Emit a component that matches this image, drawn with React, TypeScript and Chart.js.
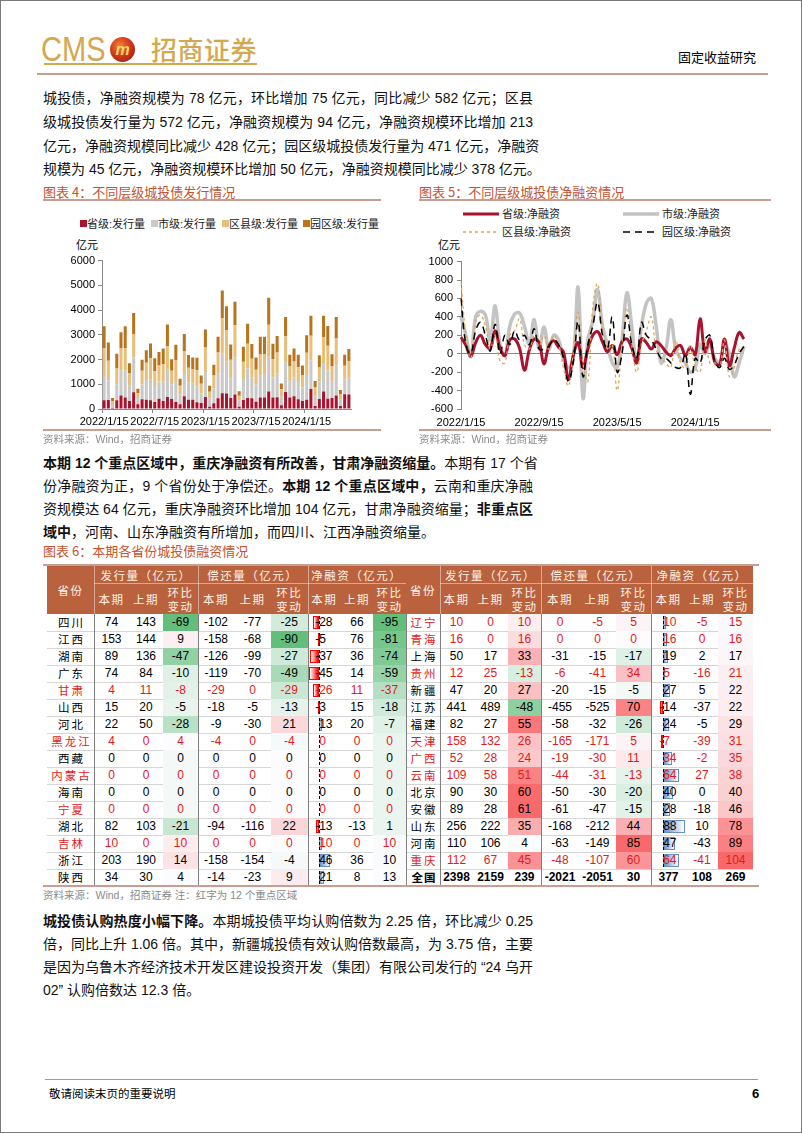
import React, { useEffect, useRef } from "react";
import { Chart, registerables } from "chart.js";

Chart.register(...registerables);

const FONT_NUM = '"Liberation Sans", Arial, "Noto Sans CJK SC", sans-serif';
const FONT_CJK = '"Noto Sans CJK SC", "Liberation Sans", sans-serif';

// ---------- time axis ----------
const halfMonthDays = ["1/15","1/31","2/15","2/28","3/15","3/31","4/15","4/30","5/15","5/31","6/15","6/30","7/15","7/31","8/15","8/31","9/15","9/30","10/15","10/31","11/15","11/30","12/15","12/31"];
const periodLabels: string[] = [
  ...halfMonthDays.map((d) => "2022/" + d),
  ...halfMonthDays.map((d) => "2023/" + d),
  ...halfMonthDays.slice(0, 11).map((d) => "2024/" + d),
];

// ---------- chart 4 : issuance (亿元) ----------
const barTickLabels = ["2022/1/15", "2022/7/15", "2023/1/15", "2023/7/15", "2024/1/15"];
const issueProvince = [350,360,40,350,550,470,320,680,190,390,370,350,280,410,320,490,400,280,190,520,370,370,270,240,490,90,230,430,640,630,440,590,90,360,440,430,290,470,470,710,470,480,150,690,470,520,390,320,370,810,120,400,710,410,440,550,120,600,590];
const issueCity = [980,800,160,650,1000,1100,620,1400,250,600,800,850,650,700,800,1100,600,850,400,900,700,650,650,400,1000,330,600,1000,1600,1300,800,1500,250,850,1200,850,700,900,950,1400,800,950,350,1200,650,750,700,550,1000,1150,400,700,1150,1150,700,1200,250,600,700];
const issueDistrict = [1130,790,120,640,900,900,500,930,200,560,700,850,600,650,700,950,550,850,350,900,600,580,650,380,1000,280,520,850,1440,1250,750,1300,200,700,1000,750,600,850,800,1300,750,850,300,1050,600,650,600,500,900,1000,350,600,1050,1000,600,1100,220,550,650];
const issuePark = [890,740,120,590,650,880,410,870,180,440,510,600,520,540,630,880,460,620,280,710,510,480,500,330,720,240,440,640,1110,970,620,950,180,610,810,600,490,700,700,1090,620,670,230,780,470,530,500,390,710,810,260,470,860,800,470,870,180,440,490];

// ---------- chart 5 : net financing (亿元) ----------
const lineTickLabels = ["2022/1/15", "2022/9/15", "2023/5/15", "2024/1/15"];
const netProvince = [180,90,-30,120,200,100,60,250,60,-20,150,160,60,-180,40,160,120,-110,80,140,70,20,-280,-20,120,-150,50,200,240,130,20,90,-10,130,160,60,-100,160,120,50,130,90,20,-20,60,90,-20,70,-10,380,20,160,-90,-120,160,-130,60,230,160];
const netCity = [400,200,-30,400,460,420,150,520,100,-20,300,430,440,300,100,370,50,290,50,200,150,-50,-150,-50,720,-480,150,350,700,300,100,-100,-150,150,660,300,-100,300,550,600,300,-100,50,370,50,-50,-100,-200,-150,100,0,100,-50,-100,100,0,-250,-100,80];
const netDistrict = [780,200,-50,350,420,300,50,200,-80,-100,200,250,380,100,50,200,80,200,50,200,100,-150,-350,0,450,-100,-300,500,760,300,50,100,-400,100,500,100,-200,100,250,400,50,-50,-100,-150,150,-100,-150,100,-150,-200,150,-100,-100,-150,150,-250,-150,50,80];
const netPark = [600,100,0,250,340,200,30,320,0,200,100,250,150,200,100,270,50,50,80,150,100,-50,-300,-100,350,-250,100,300,560,200,50,400,-200,0,420,100,-50,340,200,150,50,-50,-50,-100,-150,-150,0,-440,-50,-100,150,200,-80,-150,-50,-170,-120,0,80];

// ---------- table 6 ----------
const keyRegions = ["甘肃","黑龙江","内蒙古","宁夏","吉林","辽宁","青海","贵州","天津","广西","云南","重庆"];
const groupTitles = ["发行量（亿元）", "偿还量（亿元）", "净融资（亿元）"];
const subTitles = ["本期", "上期", "环比\n变动"];
const leftRows: (string | number)[][] = [
  ["四川",74,143,-69,-102,-77,-25,-28,66,-95],
  ["江西",153,144,9,-158,-68,-90,-5,76,-81],
  ["湖南",89,136,-47,-126,-99,-27,-37,36,-74],
  ["广东",74,84,-10,-119,-70,-49,-45,14,-59],
  ["甘肃",4,11,-8,-29,0,-29,-26,11,-37],
  ["山西",15,20,-5,-18,-5,-13,-3,15,-18],
  ["河北",22,50,-28,-9,-30,21,13,20,-7],
  ["黑龙江",4,0,4,-4,0,-4,0,0,0],
  ["西藏",0,0,0,0,0,0,0,0,0],
  ["内蒙古",0,0,0,0,0,0,0,0,0],
  ["海南",0,0,0,0,0,0,0,0,0],
  ["宁夏",0,0,0,0,0,0,0,0,0],
  ["湖北",82,103,-21,-94,-116,22,-13,-13,1],
  ["吉林",10,0,10,0,0,0,10,0,10],
  ["浙江",203,190,14,-158,-154,-4,46,36,10],
  ["陕西",34,30,4,-14,-23,9,21,8,13],
];
const rightRows: (string | number)[][] = [
  ["辽宁",10,0,10,0,-5,5,10,-5,15],
  ["青海",16,0,16,0,0,0,16,0,16],
  ["上海",50,17,33,-31,-15,-17,19,2,17],
  ["贵州",12,25,-13,-6,-41,34,5,-16,21],
  ["新疆",47,20,27,-20,-15,-5,27,5,22],
  ["江苏",441,489,-48,-455,-525,70,-14,-37,22],
  ["福建",82,27,55,-58,-32,-26,24,-5,29],
  ["天津",158,132,26,-165,-171,5,-7,-39,31],
  ["广西",52,28,24,-19,-30,11,34,-2,35],
  ["云南",109,58,51,-44,-31,-13,64,27,38],
  ["北京",90,30,60,-50,-30,-20,40,0,40],
  ["安徽",89,28,61,-61,-47,-15,28,-18,46],
  ["山东",256,222,35,-168,-212,44,88,10,78],
  ["河南",110,106,4,-63,-149,85,47,-43,89],
  ["重庆",112,67,45,-48,-107,60,64,-41,104],
  ["全国",2398,2159,239,-2021,-2051,30,377,108,269],
];

// ---------- styles ----------
const GOLD = "#d4a84f";
const ROSE = "#c79e90";
const TITLE_RED = "#c4532f";
const KEY_RED = "#e3191c";
const HEAD_BG = "#b9623d";
const SRC_GRAY = "#8a8a8a";

const abs: React.CSSProperties = { position: "absolute" };

function T({ x, y, size = 14, children, style }: { x: number; y: number; size?: number; children: React.ReactNode; style?: React.CSSProperties }) {
  const lh = Math.round(size * 1.3);
  return (
    <div style={{ ...abs, left: x, top: y - lh / 2, fontSize: size, lineHeight: lh + "px", whiteSpace: "nowrap", fontFamily: FONT_NUM, ...style }}>
      {children}
    </div>
  );
}

function JLine({ y, children, justify = true }: { y: number; children: React.ReactNode; justify?: boolean }) {
  return (
    <div
      style={{
        ...abs, left: 42, top: y - 9, width: 490, fontSize: 14, lineHeight: "18px",
        fontFamily: FONT_NUM, whiteSpace: "nowrap", color: "#111",
        textAlign: justify ? "justify" : "left", textAlignLast: justify ? "justify" : "left",
      } as React.CSSProperties}
    >
      {children}
    </div>
  );
}

const B = ({ children }: { children: React.ReactNode }) => <b style={{ fontWeight: 700 }}>{children}</b>;

const plainNum = (v: any) => String(v);

// ---------- charts ----------
function IssueChart() {
  const ref = useRef<HTMLCanvasElement>(null);
  useEffect(() => {
    const font = { family: FONT_NUM, size: 11 };
    const chart = new Chart(ref.current!, {
      type: "bar",
      data: {
        labels: periodLabels,
        datasets: [
          { label: "省级:发行量", data: issueProvince, backgroundColor: "#a8142d" },
          { label: "市级:发行量", data: issueCity, backgroundColor: "#c9c9c9" },
          { label: "区县级:发行量", data: issueDistrict, backgroundColor: "#e8bf7a" },
          { label: "园区级:发行量", data: issuePark, backgroundColor: "#b8741c" },
        ],
      },
      options: {
        animation: false,
        responsive: false,
        maintainAspectRatio: false,
        layout: { padding: { top: 8, right: 30, left: 0, bottom: 0 } },
        plugins: { legend: { display: false }, tooltip: { enabled: false } },
        datasets: { bar: { categoryPercentage: 1, barPercentage: 0.72 } },
        scales: {
          x: {
            stacked: true,
            offset: true,
            grid: {
              offset: true,
              drawOnChartArea: false,
              tickLength: 4,
              color: (ctx: any) => (ctx.index % 12 === 0 ? "#888" : "rgba(0,0,0,0)"),
            },
            border: { display: true, color: "#888" },
            ticks: {
              autoSkip: false, maxRotation: 0, minRotation: 0, padding: 2, font, color: "#000",
              callback: (_v: any, i: number) => (barTickLabels.includes(periodLabels[i]) ? periodLabels[i] : ""),
            },
            afterFit: (s: any) => { s.height = 22; },
          },
          y: {
            stacked: true,
            min: 0,
            max: 6000,
            ticks: { stepSize: 1000, font, color: "#000", padding: 3, callback: plainNum },
            grid: { drawOnChartArea: false, tickLength: 4, color: "#888" },
            border: { display: true, color: "#888" },
            afterFit: (s: any) => { s.width = 59; },
          },
        },
      } as any,
    });
    return () => chart.destroy();
  }, []);
  return <canvas ref={ref} width={338} height={180} style={{ ...abs, left: 42, top: 250, width: 338, height: 180 }} />;
}

function NetChart() {
  const ref = useRef<HTMLCanvasElement>(null);
  useEffect(() => {
    const font = { family: FONT_NUM, size: 11 };
    const common = { pointRadius: 0, tension: 0.4, fill: false };
    const chart = new Chart(ref.current!, {
      type: "line",
      data: {
        labels: periodLabels,
        datasets: [
          { ...common, label: "省级:净融资", data: netProvince, borderColor: "#a8142d", borderWidth: 3, order: 2 },
          { ...common, label: "市级:净融资", data: netCity, borderColor: "#c3c3c3", borderWidth: 3.5, order: 3 },
          { ...common, label: "区县级:净融资", data: netDistrict, borderColor: "#d9a85a", borderWidth: 1.3, borderDash: [3, 3], order: 1 },
          { ...common, label: "园区级:净融资", data: netPark, borderColor: "#000000", borderWidth: 1.5, borderDash: [7, 5], order: 0 },
        ],
      },
      options: {
        animation: false,
        responsive: false,
        maintainAspectRatio: false,
        layout: { padding: { top: 8, right: 27, left: 0, bottom: 0 } },
        plugins: { legend: { display: false }, tooltip: { enabled: false } },
        scales: {
          x: {
            offset: false,
            grid: { display: true, drawOnChartArea: false, tickLength: 4, color: "rgba(0,0,0,0)" },
            border: { display: false },
            ticks: {
              autoSkip: false, maxRotation: 0, minRotation: 0, padding: 3, font, color: "#000",
              callback: (_v: any, i: number) => (lineTickLabels.includes(periodLabels[i]) ? periodLabels[i] : ""),
            },
            afterFit: (s: any) => { s.height = 22; },
          },
          y: {
            min: -600,
            max: 1000,
            ticks: { stepSize: 200, font, color: "#000", padding: 4, callback: plainNum },
            grid: {
              drawOnChartArea: true,
              tickLength: 4,
              tickColor: "#888",
              color: (ctx: any) => (ctx.tick && ctx.tick.value === 0 ? "#888" : "rgba(0,0,0,0)"),
            },
            border: { display: true, color: "#888" },
            afterFit: (s: any) => { s.width = 42; },
          },
        },
      } as any,
    });
    return () => chart.destroy();
  }, []);
  return <canvas ref={ref} width={352} height={180} style={{ ...abs, left: 418, top: 250, width: 352, height: 180 }} />;
}

// ---------- table helpers ----------
const HEAD_TOP = 565, HEAD_MID = 582, BODY_TOP = 613, ROW_H = 17;
const leftCols = [46, 93, 128, 162, 197, 233, 270, 306.5, 340, 372, 405];
const rightCols = [405, 439, 472, 507, 540, 578, 615, 650, 685, 717, 752];

const scaleRows = [...leftRows, ...rightRows.filter((r) => r[0] !== "全国")];
function colStats(c: number) {
  const vals = scaleRows.map((r) => r[c] as number).sort((a, b) => a - b);
  return { min: vals[0], mid: vals[Math.floor(vals.length / 2)], max: vals[vals.length - 1] };
}
const heatStats: Record<number, { min: number; mid: number; max: number }> = { 3: colStats(3), 6: colStats(6), 9: colStats(9) };
const barStats = colStats(7);

function mix(a: number[], b: number[], t: number) {
  const k = Math.max(0, Math.min(1, t));
  return `rgb(${a.map((v, i) => Math.round(v + (b[i] - v) * k)).join(",")})`;
}
function heatColor(v: number, c: number) {
  const { min, mid, max } = heatStats[c];
  const white = [252, 252, 255];
  if (v <= mid) return mix(white, [99, 190, 123], mid === min ? 0 : (mid - v) / (mid - min));
  return mix(white, [248, 105, 107], max === mid ? 0 : (v - mid) / (max - mid));
}

function TableBlock({ cols, rows, tag }: { cols: number[]; rows: (string | number)[][]; tag: string }) {
  const els: React.ReactNode[] = [];
  const x0 = cols[0], x1 = cols[cols.length - 1];
  const headFont: React.CSSProperties = { color: "#fff3e8", fontSize: 11.5, fontFamily: FONT_CJK, letterSpacing: 1.5, lineHeight: "14px", textAlign: "center" };
  els.push(<div key="hbg" style={{ ...abs, left: x0, top: HEAD_TOP, width: x1 - x0, height: BODY_TOP - HEAD_TOP, background: HEAD_BG }} />);
  els.push(
    <div key="hname" style={{ ...abs, ...headFont, left: x0, top: HEAD_TOP, width: cols[1] - x0, height: BODY_TOP - HEAD_TOP, display: "flex", alignItems: "center", justifyContent: "center" }}>
      省份
    </div>
  );
  groupTitles.forEach((g, gi) => {
    const l = cols[1 + gi * 3], r = cols[4 + gi * 3];
    els.push(
      <div key={"g" + gi} style={{ ...abs, ...headFont, left: l, top: HEAD_TOP, width: r - l, height: HEAD_MID - HEAD_TOP, display: "flex", alignItems: "center", justifyContent: "center" }}>
        {g}
      </div>
    );
    subTitles.forEach((s, si) => {
      const cl = cols[1 + gi * 3 + si], cr = cols[2 + gi * 3 + si];
      els.push(
        <div key={`s${gi}${si}`} style={{ ...abs, ...headFont, left: cl, top: HEAD_MID, width: cr - cl, height: BODY_TOP - HEAD_MID, display: "flex", alignItems: "center", justifyContent: "center", whiteSpace: "pre" }}>
          {s}
        </div>
      );
    });
    els.push(<div key={"gv" + gi} style={{ ...abs, left: l, top: HEAD_TOP, width: 1, height: BODY_TOP - HEAD_TOP, background: "rgba(255,255,255,0.45)" }} />);
  });
  els.push(<div key="hmid" style={{ ...abs, left: cols[1], top: HEAD_MID, width: x1 - cols[1], height: 1, background: "rgba(255,255,255,0.45)" }} />);

  // data bar geometry
  const bl = cols[7], bw = cols[8] - cols[7];
  const usable = bw - 2;
  const span = barStats.max - barStats.min;
  const axisX = bl + 1 + (usable * -barStats.min) / span;

  rows.forEach((row, ri) => {
    const top = BODY_TOP + ri * ROW_H;
    const name = row[0] as string;
    const total = name === "全国";
    const color = keyRegions.includes(name) ? KEY_RED : "#000";
    els.push(
      <div key={`n${ri}`} style={{ ...abs, left: x0, top, width: cols[1] - x0, height: ROW_H, lineHeight: ROW_H + "px", textAlign: "center", fontFamily: FONT_CJK, fontSize: 11.5, letterSpacing: total ? 1 : 2, paddingLeft: 2, boxSizing: "border-box", color, fontWeight: total ? 700 : 400 }}>
        {name}
      </div>
    );
    for (let c = 1; c <= 9; c++) {
      const v = row[c] as number;
      const l = cols[c], w = cols[c + 1] - cols[c];
      if (!total && (c === 3 || c === 6 || c === 9)) {
        els.push(<div key={`h${ri}_${c}`} style={{ ...abs, left: l, top, width: w, height: ROW_H, background: heatColor(v, c) }} />);
      }
      if (!total && c === 7) {
        if (v !== 0) {
          const len = (usable * Math.abs(v)) / span;
          const pos = v > 0;
          els.push(
            <div
              key={`b${ri}`}
              style={{
                ...abs, top: top + 2, height: ROW_H - 4, boxSizing: "border-box",
                left: pos ? axisX : axisX - len, width: len,
                border: `1px solid ${pos ? "#638ec6" : "#ff0000"}`,
                background: pos ? "linear-gradient(to right, #638ec6, #ffffff)" : "linear-gradient(to left, #ff0000, #ffffff)",
              }}
            />
          );
        }
        els.push(<div key={`ax${ri}`} style={{ ...abs, left: axisX, top: top + 2, width: 0, height: ROW_H - 4, borderLeft: "1px dashed #000" }} />);
        els.push(
          <div key={`t${ri}_${c}`} style={{ ...abs, left: axisX - (v < 0 ? 4 : 0), top, height: ROW_H, lineHeight: ROW_H + "px", fontFamily: FONT_NUM, fontSize: 12, color, whiteSpace: "nowrap" }}>
            {v}
          </div>
        );
        continue;
      }
      els.push(
        <div key={`t${ri}_${c}`} style={{ ...abs, left: l, top, width: w, height: ROW_H, lineHeight: ROW_H + "px", textAlign: "center", fontFamily: FONT_NUM, fontSize: 12, color, fontWeight: total ? 700 : 400, whiteSpace: "nowrap" }}>
          {v}
        </div>
      );
    }
    if (ri < rows.length - 1) {
      els.push(<div key={`rl${ri}`} style={{ ...abs, left: x0, top: top + ROW_H - 0.5, width: x1 - x0, height: 1, background: "#d6d6d6" }} />);
    }
  });
  // group vertical lines in body
  [0, 1, 4, 7].forEach((ci) => {
    if (ci === 0 && tag === "L") return;
    els.push(<div key={"v" + ci} style={{ ...abs, left: cols[ci], top: BODY_TOP, width: 1, height: ROW_H * rows.length, background: "#7f7f7f" }} />);
  });
  return <>{els}</>;
}

// ---------- page ----------
export default function App() {
  return (
    <div style={{ ...abs, left: 0, top: 0, width: 802, height: 1133, boxSizing: "border-box", border: "1px solid #7a7a7a", background: "#fff", overflow: "hidden", fontFamily: FONT_NUM, color: "#000" }}>
      {/* header */}
      <div style={{ ...abs, left: 40, top: 30, fontSize: 35, lineHeight: "35px", color: GOLD, fontFamily: '"Liberation Sans", sans-serif', transform: "scaleX(0.83)", transformOrigin: "0 0", whiteSpace: "nowrap" }}>CMS</div>
      <div style={{ ...abs, left: 109, top: 36, width: 25, height: 25, borderRadius: "50%", background: "radial-gradient(circle at 40% 35%, #f2852e 0%, #d23a1c 45%, #8e1510 100%)", display: "flex", alignItems: "center", justifyContent: "center", color: "#f6d46c", fontSize: 16, fontWeight: 700, fontStyle: "italic", lineHeight: "25px", fontFamily: FONT_NUM }}>m</div>
      <div style={{ ...abs, left: 150, top: 34, fontSize: 26, lineHeight: "28px", color: GOLD, fontFamily: FONT_CJK, fontWeight: 500, letterSpacing: 0.5 }}>招商证券</div>
      <div style={{ ...abs, left: 43, top: 62, width: 213, height: 1.5, background: GOLD }} />
      <T x={677} y={55} size={13} style={{ fontFamily: FONT_CJK }}>固定收益研究</T>
      <div style={{ ...abs, left: 36, top: 72, width: 731, height: 1.5, background: ROSE }} />

      {/* paragraph 1 */}
      <JLine y={97}>城投债，净融资规模为 78 亿元，环比增加 75 亿元，同比减少 582 亿元；区县</JLine>
      <JLine y={121}>级城投债发行量为 572 亿元，净融资规模为 94 亿元，净融资规模环比增加 213</JLine>
      <JLine y={145}>亿元，净融资规模同比减少 428 亿元；园区级城投债发行量为 471 亿元，净融资</JLine>
      <JLine y={168} justify={false}>规模为 45 亿元，净融资规模环比增加 50 亿元，净融资规模同比减少 378 亿元。</JLine>

      {/* chart titles */}
      <T x={42} y={190} size={13} style={{ color: TITLE_RED, fontFamily: FONT_CJK }}>图表 4：不同层级城投债发行情况</T>
      <T x={418} y={190} size={13} style={{ color: TITLE_RED, fontFamily: FONT_CJK }}>图表 5：不同层级城投债净融资情况</T>
      <div style={{ ...abs, left: 42, top: 198, width: 338, height: 1.5, background: ROSE }} />
      <div style={{ ...abs, left: 418, top: 198, width: 352, height: 1.5, background: ROSE }} />

      {/* chart 4 legend */}
      <div style={{ ...abs, left: 42, top: 214, width: 336, height: 18, overflow: "hidden" }}>
        {[
          { x: 37, c: "#a8142d", t: "省级:发行量" },
          { x: 108, c: "#c9c9c9", t: "市级:发行量" },
          { x: 179, c: "#e8bf7a", t: "区县级:发行量" },
          { x: 260, c: "#b8741c", t: "园区级:发行量" },
        ].map((it) => (
          <React.Fragment key={it.t}>
            <div style={{ ...abs, left: it.x, top: 5, width: 7, height: 7, background: it.c }} />
            <div style={{ ...abs, left: it.x + 7, top: 0, fontSize: 11, lineHeight: "18px", whiteSpace: "nowrap", fontFamily: FONT_NUM, color: "#222" }}>{it.t}</div>
          </React.Fragment>
        ))}
      </div>
      <T x={75} y={243} size={11} style={{ fontFamily: FONT_CJK }}>亿元</T>
      <IssueChart />

      {/* chart 5 legend */}
      {[
        { x: 462, y: 213, t: "省级:净融资", stroke: "#a8142d", w: 3, dash: "" },
        { x: 622, y: 213, t: "市级:净融资", stroke: "#c3c3c3", w: 3.5, dash: "" },
        { x: 462, y: 231, t: "区县级:净融资", stroke: "#d9a85a", w: 1.3, dash: "3 3" },
        { x: 622, y: 231, t: "园区级:净融资", stroke: "#000", w: 1.5, dash: "7 5" },
      ].map((it) => (
        <React.Fragment key={it.t}>
          <svg width={36} height={8} style={{ ...abs, left: it.x, top: it.y - 4 }}>
            <line x1={0} y1={4} x2={36} y2={4} stroke={it.stroke} strokeWidth={it.w} strokeDasharray={it.dash || undefined} />
          </svg>
          <T x={it.x + 39} y={it.y} size={11} style={{ color: "#222" }}>{it.t}</T>
        </React.Fragment>
      ))}
      <T x={437} y={243} size={11} style={{ fontFamily: FONT_CJK }}>亿元</T>
      <NetChart />

      <div style={{ ...abs, left: 42, top: 428, width: 338, height: 1.5, background: ROSE }} />
      <div style={{ ...abs, left: 418, top: 428, width: 352, height: 1.5, background: ROSE }} />
      <T x={42} y={438} size={10.5} style={{ color: SRC_GRAY }}>资料来源：Wind，招商证券</T>
      <T x={418} y={438} size={10.5} style={{ color: SRC_GRAY }}>资料来源：Wind，招商证券</T>

      {/* paragraph 2 */}
      <JLine y={462}><B>本期 12 个重点区域中，重庆净融资有所改善，甘肃净融资缩量。</B>本期有 17 个省</JLine>
      <JLine y={485}>份净融资为正，9 个省份处于净偿还。<B>本期 12 个重点区域中，</B>云南和重庆净融</JLine>
      <JLine y={508}>资规模达 64 亿元，重庆净融资环比增加 104 亿元，甘肃净融资缩量；<B>非重点区</B></JLine>
      <JLine y={531} justify={false}><B>域中</B>，河南、山东净融资有所增加，而四川、江西净融资缩量。</JLine>

      {/* table 6 */}
      <T x={42} y={549} size={13} style={{ color: TITLE_RED, fontFamily: FONT_CJK }}>图表 6：本期各省份城投债融资情况</T>
      <div style={{ ...abs, left: 42, top: 563, width: 716, height: 1.5, background: ROSE }} />
      <TableBlock cols={leftCols} rows={leftRows} tag="L" />
      <TableBlock cols={rightCols} rows={rightRows} tag="R" />
      <div style={{ ...abs, left: 42, top: 884, width: 716, height: 2, background: ROSE }} />
      <T x={42} y={894} size={10.5} style={{ color: SRC_GRAY }}>资料来源：Wind，招商证券  注：红字为 12 个重点区域</T>

      {/* paragraph 3 */}
      <JLine y={920}><B>城投债认购热度小幅下降。</B>本期城投债平均认购倍数为 2.25 倍，环比减少 0.25</JLine>
      <JLine y={943}>倍，同比上升 1.06 倍。其中，新疆城投债有效认购倍数最高，为 3.75 倍，主要</JLine>
      <JLine y={966}>是因为乌鲁木齐经济技术开发区建设投资开发（集团）有限公司发行的 “24 乌开</JLine>
      <JLine y={989} justify={false}>02” 认购倍数达 12.3 倍。</JLine>

      {/* footer */}
      <div style={{ ...abs, left: 44, top: 1078, width: 713, height: 1, background: "#9a9a9a" }} />
      <T x={48} y={1092} size={11.5} style={{ fontFamily: FONT_CJK }}>敬请阅读末页的重要说明</T>
      <T x={751} y={1092} size={13} style={{ fontWeight: 700 }}>6</T>
    </div>
  );
}
